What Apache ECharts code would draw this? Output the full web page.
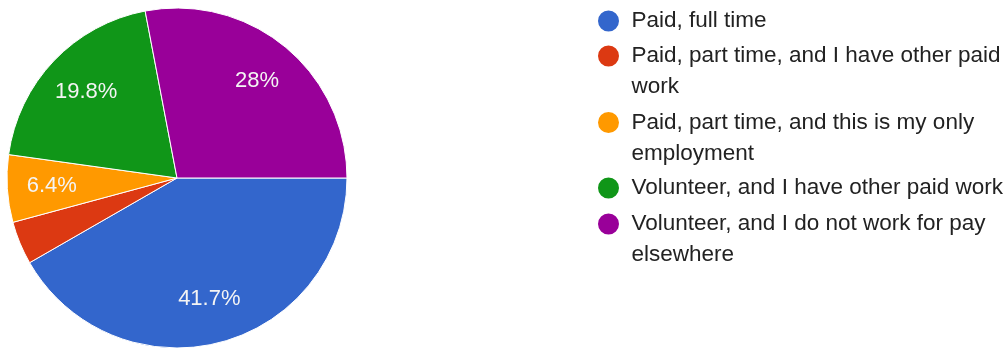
<!DOCTYPE html>
<html>
<head>
<meta charset="utf-8">
<title>Employment status</title>
<script src="https://cdn.jsdelivr.net/npm/echarts@6/dist/echarts.min.js"></script>
<style>
  html, body { margin: 0; padding: 0; background: #ffffff; }
  #chart { width: 1008px; height: 349px; }
</style>
</head>
<body>
<div id="chart"></div>
<script>
// Response categories and their shares (percent)
const categories = [
  'Paid, full time',
  'Paid, part time, and I have other paid work',
  'Paid, part time, and this is my only employment',
  'Volunteer, and I have other paid work',
  'Volunteer, and I do not work for pay elsewhere'
];
const shares = [41.7, 4.1, 6.4, 19.8, 28];

// Legend text, wrapped the way it is shown
const legendLabels = [
  'Paid, full time',
  'Paid, part time, and I have other paid\nwork',
  'Paid, part time, and this is my only\nemployment',
  'Volunteer, and I have other paid work',
  'Volunteer, and I do not work for pay\nelsewhere'
];

// Slices too thin to carry an inside label
const hideLabel = [false, true, false, false, false];

const palette = ['#3366cc', '#dc3912', '#ff9900', '#109618', '#990099'];

const FONT = '"Liberation Sans", Arial, sans-serif';
const LINE_H = 31;
const CX = 177, CY = 178, R = 170;
// vertical centre of each legend marker
const markerCenters = [21, 56, 122.5, 188, 224];

const chart = echarts.init(document.getElementById('chart'), null, { renderer: 'canvas' });

const pieData = categories.map((name, i) => ({ name, value: shares[i] }));

// one legend block per entry; wrapped entries get blank lines on top so the
// marker (centred on the text block) lines up with the first text line
const legends = categories.map((name, i) => {
  const lines = legendLabels[i].split('\n');
  const pad = new Array(lines.length - 1).fill('').join('\n');
  const text = lines.length > 1 ? pad + '\n' + legendLabels[i] : legendLabels[i];
  const total = lines.length * 2 - 1;
  return {
    orient: 'vertical',
    left: 596,
    top: markerCenters[i] - total * LINE_H / 2,
    padding: 0,
    itemWidth: 36,
    itemHeight: 23,
    icon: 'circle',
    selectedMode: false,
    data: [name],
    formatter: () => text,
    textStyle: {
      fontFamily: FONT,
      fontSize: 22.5,
      lineHeight: LINE_H,
      color: '#222222'
    }
  };
});

chart.setOption({
  backgroundColor: '#ffffff',
  animation: false,
  color: palette,
  legend: legends,
  series: [
    {
      // the coloured slices
      type: 'pie',
      center: [CX, CY],
      radius: [0, R],
      startAngle: 0,
      clockwise: true,
      silent: true,
      avoidLabelOverlap: false,
      label: { show: false },
      labelLine: { show: false },
      itemStyle: { borderColor: '#ffffff', borderWidth: 1 },
      data: pieData
    },
    {
      // an invisible ring that carries the percentage labels
      type: 'pie',
      center: [CX, CY],
      radius: [R * 0.44, R],
      startAngle: 0,
      clockwise: true,
      silent: true,
      avoidLabelOverlap: false,
      itemStyle: { color: 'rgba(0,0,0,0)', borderWidth: 0 },
      labelLine: { show: false },
      label: {
        show: true,
        position: 'inside',
        formatter: p => p.value + '%',
        fontFamily: FONT,
        fontSize: 22,
        color: '#f4f4f4'
      },
      data: pieData.map((d, i) => ({
        name: d.name,
        value: d.value,
        label: { show: !hideLabel[i] }
      }))
    }
  ]
});
</script>
</body>
</html>
